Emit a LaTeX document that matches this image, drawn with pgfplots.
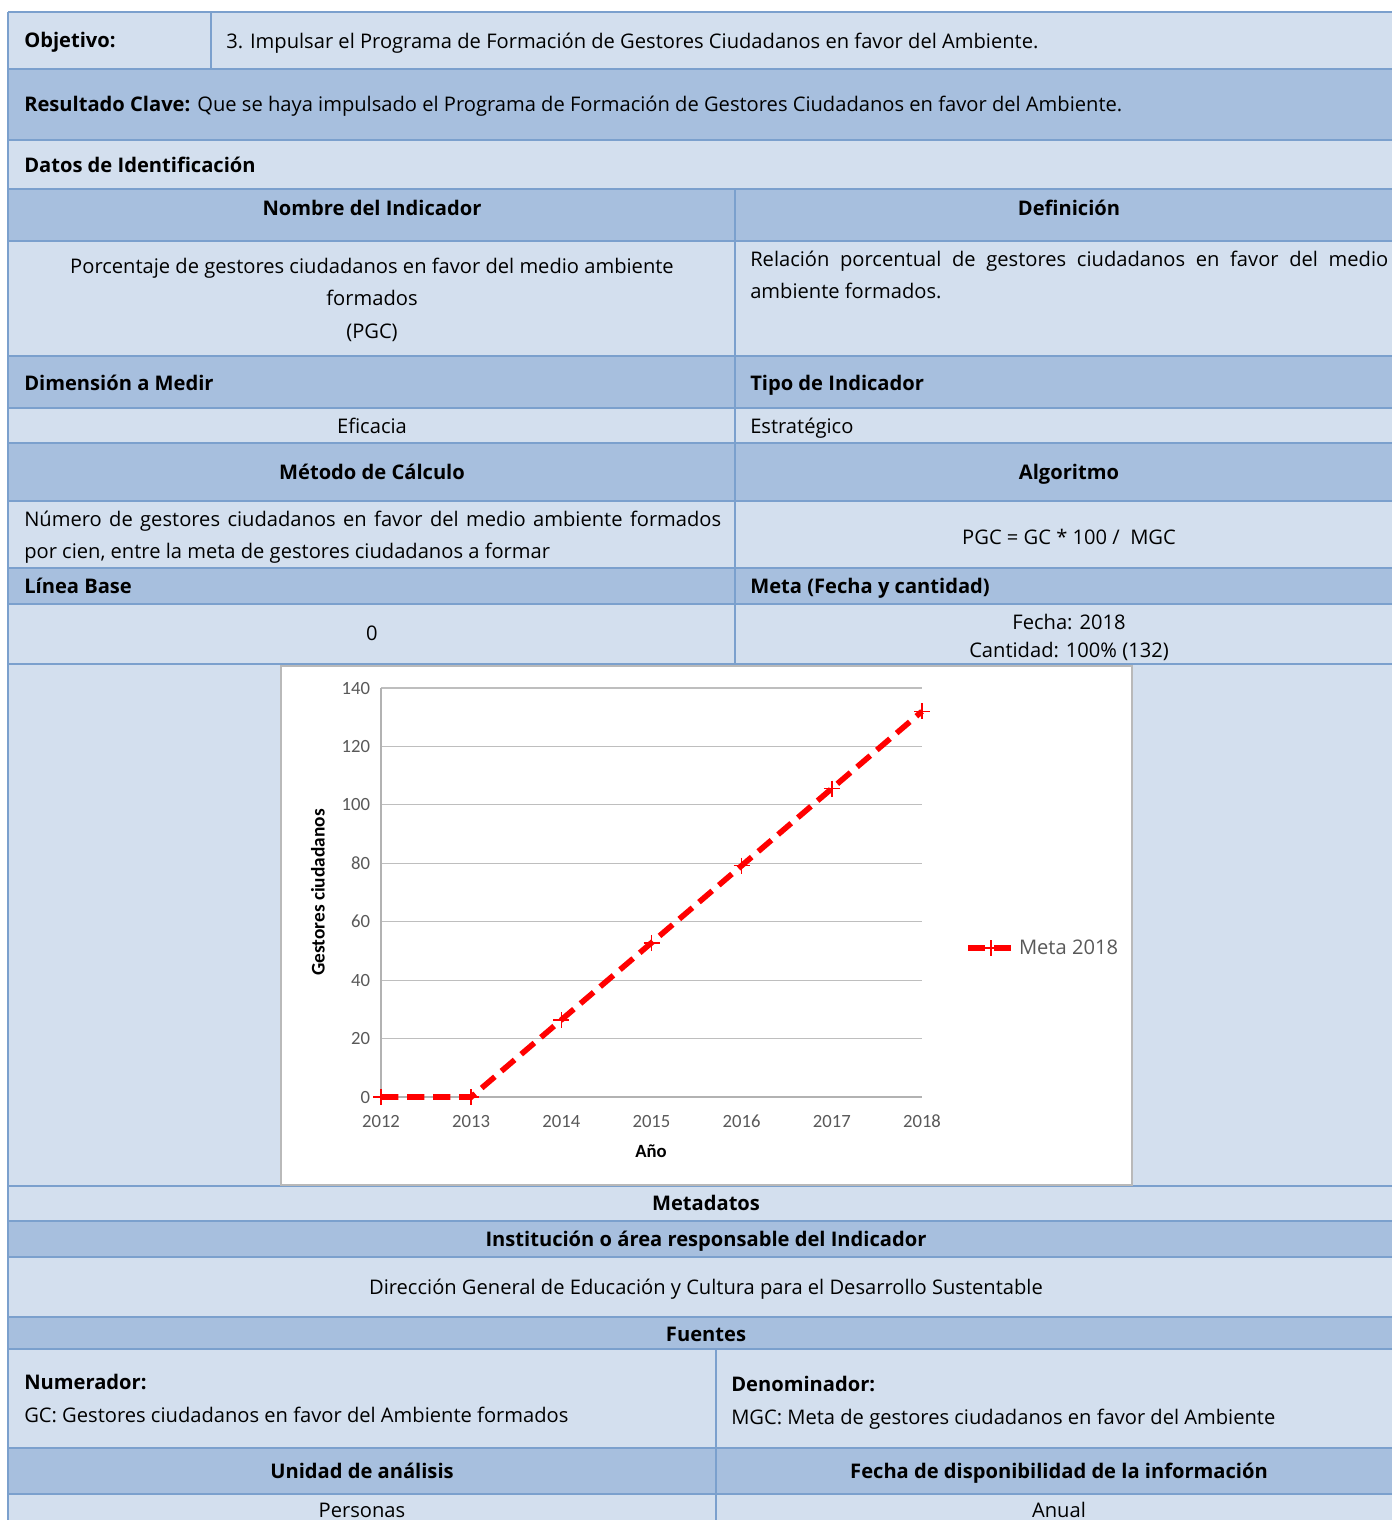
\documentclass[border=0pt]{standalone}
\usepackage{fontspec}
\setmainfont{Open Sans}
\newfontfamily\carlito{Carlito}
\usepackage{pgfplots}
\pgfplotsset{compat=1.18}
\definecolor{light}{HTML}{D3DFEE}
\definecolor{dark}{HTML}{A7BFDE}
\definecolor{rulec}{HTML}{7BA0CD}
\definecolor{tickc}{HTML}{595959}
\definecolor{gridc}{HTML}{BEBEBE}

\begin{document}
\begin{tikzpicture}[every node/.style={inner sep=0pt, font=\fontsize{15.1pt}{18pt}\selectfont}]
\begin{scope}[x=0.75pt, y=-0.75pt]
  \useasboundingbox (0,0) rectangle (1392,1520);
  \fill[white] (0,0) rectangle (1392,1520);
  % row fills
  \fill[light] (8,12) rectangle (1392,69);
  \fill[dark]  (8,69) rectangle (1392,140);
  \fill[light] (8,140) rectangle (1392,189);
  \fill[dark]  (8,189) rectangle (1392,241);
  \fill[light] (8,241) rectangle (1392,356);
  \fill[dark]  (8,356) rectangle (1392,408);
  \fill[light] (8,408) rectangle (1392,443);
  \fill[dark]  (8,443) rectangle (1392,501);
  \fill[light] (8,501) rectangle (1392,568);
  \fill[dark]  (8,568) rectangle (1392,604);
  \fill[light] (8,604) rectangle (1392,1221);
  \fill[dark]  (8,1221) rectangle (1392,1257);
  \fill[light] (8,1257) rectangle (1392,1317);
  \fill[dark]  (8,1317) rectangle (1392,1349);
  \fill[light] (8,1349) rectangle (1392,1448);
  \fill[dark]  (8,1448) rectangle (1392,1494);
  \fill[light] (8,1494) rectangle (1392,1520);
  % rules
  \begin{scope}[draw=rulec, line width=2.2pt]
    \foreach \y in {12,69,140,189,241,356,408,443,501,568,604,664,1186,1221,1257,1317,1349,1448,1494}
      \draw (8,\y) -- (1392,\y);
    \draw (8,12) -- (8,1520);
    \draw (211,12) -- (211,69);
    \draw (735,189) -- (735,664);
    \draw (716,1349) -- (716,1520);
  \end{scope}
  % chart frame
  \draw[draw=gray!55, fill=white, line width=0.8pt] (281,666) rectangle (1132,1185);

  % texts
  \node[anchor=base west] at (24,48) {\textbf{Objetivo:}};
  \node[anchor=base west] at (226,49) {3. Impulsar el Programa de Formación de Gestores Ciudadanos en favor del Ambiente.};
  \node[anchor=base west] at (24,111) {\textbf{Resultado Clave:} Que se haya impulsado el Programa de Formación de Gestores Ciudadanos en favor del Ambiente.};
  \node[anchor=base west] at (24,172) {\textbf{Datos de Identificación}};
  \node[anchor=base] at (372,215) {\textbf{Nombre del Indicador}};
  \node[anchor=base] at (1069,215) {\textbf{Definición}};
  \node[anchor=base] at (372,273) {Porcentaje de gestores ciudadanos en favor del medio ambiente};
  \node[anchor=base] at (372,305) {formados};
  \node[anchor=base] at (372,338) {(PGC)};
  \node[anchor=base west] at (750,266) {\makebox[478.5pt][s]{Relación porcentual de gestores ciudadanos en favor del medio}};
  \node[anchor=base west] at (750,298) {ambiente formados.};
  \node[anchor=base west] at (24,390) {\textbf{Dimensión a Medir}};
  \node[anchor=base west] at (750,390) {\textbf{Tipo de Indicador}};
  \node[anchor=base] at (372,433) {Eficacia};
  \node[anchor=base west] at (750,433) {Estratégico};
  \node[anchor=base] at (372,479) {\textbf{Método de Cálculo}};
  \node[anchor=base] at (1069,479) {\textbf{Algoritmo}};
  \node[anchor=base west] at (24,526) {\makebox[522.75pt][s]{Número de gestores ciudadanos en favor del medio ambiente formados}};
  \node[anchor=base west] at (24,558) {por cien, entre la meta de gestores ciudadanos a formar};
  \node[anchor=base] at (1069,544) {PGC = GC * 100 /~~MGC};
  \node[anchor=base west] at (24,593) {\textbf{Línea Base}};
  \node[anchor=base west] at (750,593) {\textbf{Meta (Fecha y cantidad)}};
  \node[anchor=base] at (372,640) {0};
  \node[anchor=base] at (1069,629) {Fecha: 2018};
  \node[anchor=base] at (1069,657) {Cantidad: 100\% (132)};
  \node[anchor=base] at (706,1210) {\textbf{Metadatos}};
  \node[anchor=base] at (706,1246) {\textbf{Institución o área responsable del Indicador}};
  \node[anchor=base] at (706,1294) {Dirección General de Educación y Cultura para el Desarrollo Sustentable};
  \node[anchor=base] at (706,1341) {\textbf{Fuentes}};
  \node[anchor=base west] at (24,1389) {\textbf{Numerador:}};
  \node[anchor=base west] at (24,1422) {GC: Gestores ciudadanos en favor del Ambiente formados};
  \node[anchor=base west] at (731,1391) {\textbf{Denominador:}};
  \node[anchor=base west] at (731,1424) {MGC: Meta de gestores ciudadanos en favor del Ambiente};
  \node[anchor=base] at (362,1478) {\textbf{Unidad de análisis}};
  \node[anchor=base] at (1059,1478) {\textbf{Fecha de disponibilidad de la información}};
  \node[anchor=base] at (362,1517) {Personas};
  \node[anchor=base] at (1059,1517) {Anual};
\end{scope}

\begin{axis}[
    at={(285.75pt,-822.75pt)}, anchor=south west,
    scale only axis, width=405.75pt, height=306.75pt,
    xmin=2012, xmax=2018, ymin=0, ymax=140,
    xtick={2012,2013,...,2018}, ytick={0,20,...,140},
    /pgf/number format/assume math mode=true,
    /pgf/number format/1000 sep={},
    tick label style={font=\carlito\fontsize{14pt}{16pt}\selectfont, text=tickc},
    xticklabel style={anchor=center, yshift=-18.5pt, text height=9pt},
    yticklabel style={anchor=east, xshift=-8pt},
    major tick length=0pt,
    axis x line=bottom, axis y line=left,
    axis line style={-, draw=gray!60, line width=0.8pt},
    ymajorgrids, grid style={draw=gridc, line width=0.8pt},
    clip=false,
    xlabel={Año},
    ylabel={Gestores ciudadanos},
    xlabel style={font=\carlito\bfseries\fontsize{14pt}{16pt}\selectfont, at={(axis description cs:0.499,-0.132)}, anchor=center},
    ylabel style={font=\carlito\bfseries\fontsize{14.5pt}{16pt}\selectfont, at={(axis description cs:-0.1165,0.5)}, anchor=center},
    legend style={at={(axis description cs:1.072,0.364)}, anchor=west, draw=none, fill=none,
        font=\carlito\fontsize{13pt}{16pt}\selectfont, text=tickc},
    legend image code/.code={\draw[mark repeat=2, mark phase=2, #1] plot coordinates {(0cm,0cm) (0.6cm,0cm) (1.2cm,0cm)};},
]
\addplot[red, line width=4.2pt, dash pattern=on 13pt off 6.5pt, mark=+, mark size=6pt,
    mark options={solid, red, line width=1.2pt}]
  coordinates {(2012,0) (2013,0) (2014,26.4) (2015,52.8) (2016,79.2) (2017,105.6) (2018,132)};
\legend{Meta 2018}
\end{axis}
\end{tikzpicture}
\end{document}
